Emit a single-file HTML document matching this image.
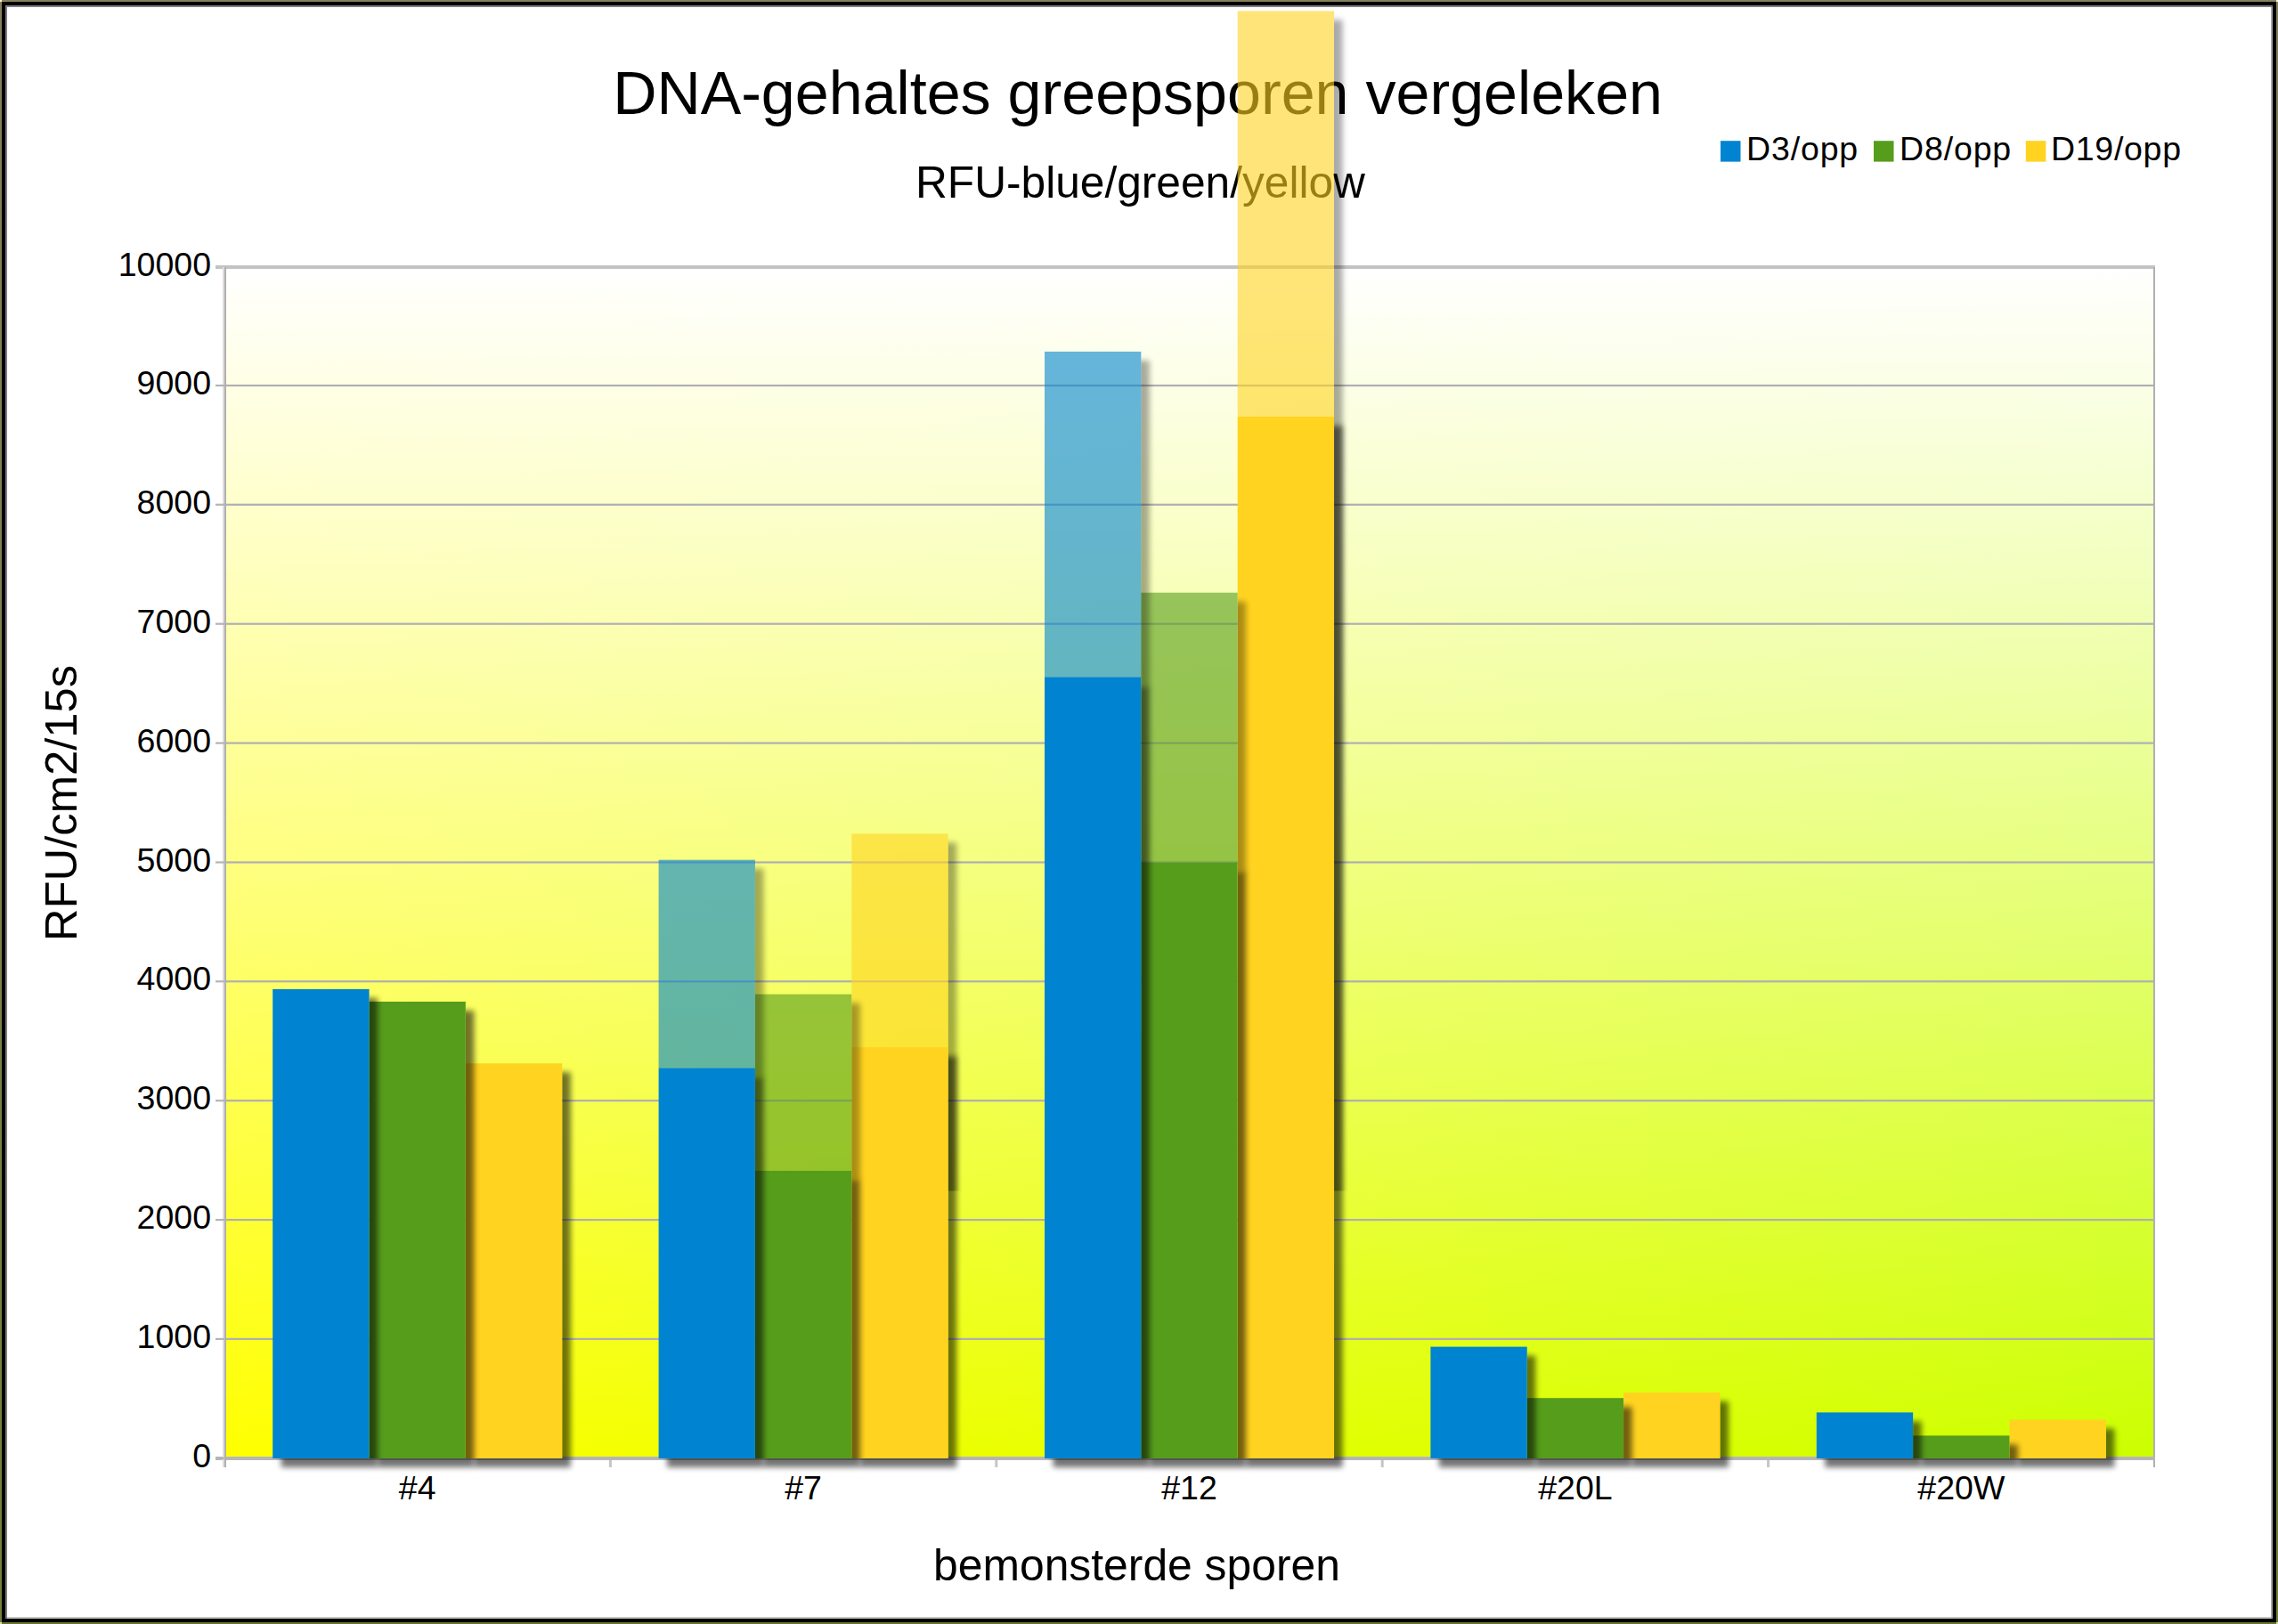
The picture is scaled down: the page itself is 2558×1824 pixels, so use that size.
<!DOCTYPE html>
<html lang="nl"><head><meta charset="utf-8"><title>DNA-gehaltes greepsporen vergeleken</title>
<style>
html,body{margin:0;padding:0;background:#fff;}
body{width:2558px;height:1824px;overflow:hidden;font-family:"Liberation Sans",Arial,sans-serif;}
svg{display:block;}
text{font-family:"Liberation Sans",Arial,sans-serif;fill:#000;}
</style></head><body>
<svg width="2558" height="1824" viewBox="0 0 2558 1824">
<defs>
<linearGradient id="gh" x1="0" y1="0" x2="1" y2="0"><stop offset="0" stop-color="#ffff00"/><stop offset="1" stop-color="#ccff00"/></linearGradient>
<linearGradient id="gv" x1="0" y1="0" x2="0" y2="1"><stop offset="0" stop-color="#fff" stop-opacity="1"/><stop offset="1" stop-color="#fff" stop-opacity="0"/></linearGradient>
<linearGradient id="ol" x1="0" y1="0" x2="0" y2="1"><stop offset="0" stop-color="#85815b"/><stop offset="1" stop-color="#74803a"/></linearGradient>
<filter id="bl" filterUnits="userSpaceOnUse" x="0" y="0" width="2558" height="1824"><feGaussianBlur stdDeviation="3"/></filter>
<clipPath id="cp"><rect x="8" y="8" width="2542" height="1808"/></clipPath>
</defs>

<rect x="0" y="0" width="2558" height="1824" fill="url(#ol)"/>
<rect x="0" y="0" width="2558" height="2" fill="#85815b"/>
<rect x="0" y="1822" width="2558" height="2" fill="#6a7530"/>
<rect x="0" y="0" width="2" height="2" fill="#f4f4e0"/>
<rect x="2556" y="0" width="2" height="2" fill="#f0f0dc"/>
<rect x="0" y="1822" width="2" height="2" fill="#d2e0a0"/>
<rect x="2556" y="1822" width="2" height="2" fill="#d0dca4"/>
<rect x="2" y="2" width="2554" height="1820" fill="#000"/>
<rect x="6" y="6" width="2546" height="1812" fill="#807e80"/>
<rect x="2550" y="8" width="2" height="1810" fill="#a8a8a8"/>
<rect x="8" y="1816" width="2542" height="2" fill="#c6c8c2"/>
<rect x="8" y="8" width="2542" height="1808" fill="#fff"/>
<rect x="252.0" y="300.0" width="2167.0" height="1338.0" fill="url(#gh)"/>
<rect x="252.0" y="300.0" width="2167.0" height="1338.0" fill="url(#gv)"/>
<rect x="254.0" y="1502.8" width="2165.0" height="2.2" fill="#afafb4"/>
<rect x="254.0" y="1369.0" width="2165.0" height="2.2" fill="#afafb4"/>
<rect x="254.0" y="1235.1" width="2165.0" height="2.2" fill="#afafb4"/>
<rect x="254.0" y="1101.2" width="2165.0" height="2.2" fill="#afafb4"/>
<rect x="254.0" y="967.4" width="2165.0" height="2.2" fill="#afafb4"/>
<rect x="254.0" y="833.5" width="2165.0" height="2.2" fill="#afafb4"/>
<rect x="254.0" y="699.6" width="2165.0" height="2.2" fill="#afafb4"/>
<rect x="254.0" y="565.7" width="2165.0" height="2.2" fill="#afafb4"/>
<rect x="254.0" y="431.9" width="2165.0" height="2.2" fill="#afafb4"/>
<rect x="242.0" y="298.0" width="2178.0" height="4" fill="#c3c3c3"/>
<rect x="2418.0" y="300.0" width="2" height="1348.0" fill="#b0b0b0"/>
<text x="688.2" y="127.7" font-size="68.2" text-anchor="start" >DNA-gehaltes greepsporen vergeleken</text>
<text x="1028" y="222" font-size="49.65" text-anchor="start" >RFU-blue/green/yellow</text>
<rect x="242.0" y="1636.0" width="2178.0" height="4" fill="#b6b6b6"/>
<g clip-path="url(#cp)">
<clipPath id="c1"><path clip-rule="evenodd" d="M0,0H2558V1824H0Z M522.9,1194.3H631.2V1638.0H522.9Z"/></clipPath>
<g clip-path="url(#c1)"><rect x="532.4" y="1204.3" width="108.35" height="443.7" fill="#000" opacity="0.55" filter="url(#bl)"/></g>
<rect x="522.9" y="1194.3" width="108.35" height="443.7" fill="#ffd320" opacity="1"/>
<clipPath id="c2"><path clip-rule="evenodd" d="M0,0H2558V1824H0Z M414.5,1125.0H522.9V1638.0H414.5Z"/></clipPath>
<g clip-path="url(#c2)"><rect x="424.0" y="1135.0" width="108.35" height="513.0" fill="#000" opacity="0.55" filter="url(#bl)"/></g>
<rect x="414.5" y="1125.0" width="108.35" height="513.0" fill="#579d1c" opacity="1"/>
<clipPath id="c3"><path clip-rule="evenodd" d="M0,0H2558V1824H0Z M306.2,1111.0H414.5V1638.0H306.2Z"/></clipPath>
<g clip-path="url(#c3)"><rect x="315.7" y="1121.0" width="108.35" height="527.0" fill="#000" opacity="0.55" filter="url(#bl)"/></g>
<rect x="306.2" y="1111.0" width="108.35" height="527.0" fill="#0084d1" opacity="1"/>
<clipPath id="c4"><rect x="1064.6" y="0" width="60" height="1824"/></clipPath>
<g clip-path="url(#c4)"><rect x="965.8" y="946.4" width="108.35" height="239.8" fill="#000" opacity="0.33" filter="url(#bl)"/></g>
<rect x="956.3" y="936.4" width="108.35" height="239.8" fill="#ffd320" opacity="0.6"/>
<clipPath id="c5"><rect x="1064.6" y="0" width="60" height="1337.5"/></clipPath>
<g clip-path="url(#c5)"><rect x="965.8" y="1186.1" width="108.35" height="173.9" fill="#000" opacity="0.33" filter="url(#bl)"/></g>
<clipPath id="c6"><path clip-rule="evenodd" d="M0,0H2558V1824H0Z M956.3,1176.1H1064.6V1638.0H956.3Z"/></clipPath>
<g clip-path="url(#c6)"><rect x="965.8" y="1186.1" width="108.35" height="461.9" fill="#000" opacity="0.55" filter="url(#bl)"/></g>
<rect x="956.3" y="1176.1" width="108.35" height="461.9" fill="#ffd320" opacity="1"/>
<clipPath id="c7"><rect x="956.3" y="0" width="60" height="1824"/></clipPath>
<g clip-path="url(#c7)"><rect x="857.4" y="1126.7" width="108.35" height="198.3" fill="#000" opacity="0.33" filter="url(#bl)"/></g>
<rect x="847.9" y="1116.7" width="108.35" height="198.3" fill="#579d1c" opacity="0.6"/>
<clipPath id="c8"><path clip-rule="evenodd" d="M0,0H2558V1824H0Z M847.9,1315.0H956.3V1638.0H847.9Z"/></clipPath>
<g clip-path="url(#c8)"><rect x="857.4" y="1325.0" width="108.35" height="323.0" fill="#000" opacity="0.55" filter="url(#bl)"/></g>
<rect x="847.9" y="1315.0" width="108.35" height="323.0" fill="#579d1c" opacity="1"/>
<clipPath id="c9"><rect x="847.9" y="0" width="60" height="1824"/></clipPath>
<g clip-path="url(#c9)"><rect x="749.1" y="975.7" width="108.35" height="233.7" fill="#000" opacity="0.33" filter="url(#bl)"/></g>
<rect x="739.6" y="965.7" width="108.35" height="233.7" fill="#0084d1" opacity="0.6"/>
<clipPath id="c10"><path clip-rule="evenodd" d="M0,0H2558V1824H0Z M739.6,1199.4H847.9V1638.0H739.6Z"/></clipPath>
<g clip-path="url(#c10)"><rect x="749.1" y="1209.4" width="108.35" height="438.6" fill="#000" opacity="0.55" filter="url(#bl)"/></g>
<rect x="739.6" y="1199.4" width="108.35" height="438.6" fill="#0084d1" opacity="1"/>
<clipPath id="c11"><rect x="1498.0" y="0" width="60" height="1824"/></clipPath>
<g clip-path="url(#c11)"><rect x="1399.2" y="22.3" width="108.35" height="455.5" fill="#000" opacity="0.33" filter="url(#bl)"/></g>
<rect x="1389.7" y="12.3" width="108.35" height="455.5" fill="#ffd320" opacity="0.6"/>
<clipPath id="c12"><rect x="1498.0" y="0" width="60" height="1337.5"/></clipPath>
<g clip-path="url(#c12)"><rect x="1399.2" y="477.8" width="108.35" height="882.2" fill="#000" opacity="0.33" filter="url(#bl)"/></g>
<clipPath id="c13"><path clip-rule="evenodd" d="M0,0H2558V1824H0Z M1389.7,467.8H1498.0V1638.0H1389.7Z"/></clipPath>
<g clip-path="url(#c13)"><rect x="1399.2" y="477.8" width="108.35" height="1170.2" fill="#000" opacity="0.55" filter="url(#bl)"/></g>
<rect x="1389.7" y="467.8" width="108.35" height="1170.2" fill="#ffd320" opacity="1"/>
<clipPath id="c14"><rect x="1389.7" y="0" width="60" height="1824"/></clipPath>
<g clip-path="url(#c14)"><rect x="1290.8" y="675.7" width="108.35" height="302.8" fill="#000" opacity="0.33" filter="url(#bl)"/></g>
<rect x="1281.3" y="665.7" width="108.35" height="302.8" fill="#579d1c" opacity="0.6"/>
<clipPath id="c15"><path clip-rule="evenodd" d="M0,0H2558V1824H0Z M1281.3,968.5H1389.7V1638.0H1281.3Z"/></clipPath>
<g clip-path="url(#c15)"><rect x="1290.8" y="978.5" width="108.35" height="669.5" fill="#000" opacity="0.55" filter="url(#bl)"/></g>
<rect x="1281.3" y="968.5" width="108.35" height="669.5" fill="#579d1c" opacity="1"/>
<clipPath id="c16"><rect x="1281.3" y="0" width="60" height="1824"/></clipPath>
<g clip-path="url(#c16)"><rect x="1182.5" y="404.9" width="108.35" height="365.4" fill="#000" opacity="0.33" filter="url(#bl)"/></g>
<rect x="1173.0" y="394.9" width="108.35" height="365.4" fill="#0084d1" opacity="0.6"/>
<clipPath id="c17"><path clip-rule="evenodd" d="M0,0H2558V1824H0Z M1173.0,760.3H1281.3V1638.0H1173.0Z"/></clipPath>
<g clip-path="url(#c17)"><rect x="1182.5" y="770.3" width="108.35" height="877.7" fill="#000" opacity="0.55" filter="url(#bl)"/></g>
<rect x="1173.0" y="760.3" width="108.35" height="877.7" fill="#0084d1" opacity="1"/>
<clipPath id="c18"><path clip-rule="evenodd" d="M0,0H2558V1824H0Z M1823.1,1564.0H1931.4V1638.0H1823.1Z"/></clipPath>
<g clip-path="url(#c18)"><rect x="1832.6" y="1574.0" width="108.35" height="74.0" fill="#000" opacity="0.55" filter="url(#bl)"/></g>
<rect x="1823.1" y="1564.0" width="108.35" height="74.0" fill="#ffd320" opacity="1"/>
<clipPath id="c19"><path clip-rule="evenodd" d="M0,0H2558V1824H0Z M1714.7,1570.2H1823.1V1638.0H1714.7Z"/></clipPath>
<g clip-path="url(#c19)"><rect x="1724.2" y="1580.2" width="108.35" height="67.8" fill="#000" opacity="0.55" filter="url(#bl)"/></g>
<rect x="1714.7" y="1570.2" width="108.35" height="67.8" fill="#579d1c" opacity="1"/>
<clipPath id="c20"><path clip-rule="evenodd" d="M0,0H2558V1824H0Z M1606.4,1512.6H1714.7V1638.0H1606.4Z"/></clipPath>
<g clip-path="url(#c20)"><rect x="1615.9" y="1522.6" width="108.35" height="125.4" fill="#000" opacity="0.55" filter="url(#bl)"/></g>
<rect x="1606.4" y="1512.6" width="108.35" height="125.4" fill="#0084d1" opacity="1"/>
<clipPath id="c21"><path clip-rule="evenodd" d="M0,0H2558V1824H0Z M2256.5,1594.5H2364.8V1638.0H2256.5Z"/></clipPath>
<g clip-path="url(#c21)"><rect x="2266.0" y="1604.5" width="108.35" height="43.5" fill="#000" opacity="0.55" filter="url(#bl)"/></g>
<rect x="2256.5" y="1594.5" width="108.35" height="43.5" fill="#ffd320" opacity="1"/>
<clipPath id="c22"><path clip-rule="evenodd" d="M0,0H2558V1824H0Z M2148.1,1612.4H2256.5V1638.0H2148.1Z"/></clipPath>
<g clip-path="url(#c22)"><rect x="2157.6" y="1622.4" width="108.35" height="25.6" fill="#000" opacity="0.55" filter="url(#bl)"/></g>
<rect x="2148.1" y="1612.4" width="108.35" height="25.6" fill="#579d1c" opacity="1"/>
<clipPath id="c23"><path clip-rule="evenodd" d="M0,0H2558V1824H0Z M2039.8,1586.4H2148.1V1638.0H2039.8Z"/></clipPath>
<g clip-path="url(#c23)"><rect x="2049.3" y="1596.4" width="108.35" height="51.6" fill="#000" opacity="0.55" filter="url(#bl)"/></g>
<rect x="2039.8" y="1586.4" width="108.35" height="51.6" fill="#0084d1" opacity="1"/>
</g>
<rect x="250.0" y="300.0" width="2" height="1348.0" fill="#e0dcdc"/>
<rect x="252.0" y="300.0" width="2" height="1348.0" fill="#b0b0b0"/>
<rect x="242.0" y="1636.7" width="11" height="2.2" fill="#b4b4b4"/>
<rect x="242.0" y="1502.8" width="11" height="2.2" fill="#b4b4b4"/>
<rect x="242.0" y="1369.0" width="11" height="2.2" fill="#b4b4b4"/>
<rect x="242.0" y="1235.1" width="11" height="2.2" fill="#b4b4b4"/>
<rect x="242.0" y="1101.2" width="11" height="2.2" fill="#b4b4b4"/>
<rect x="242.0" y="967.4" width="11" height="2.2" fill="#b4b4b4"/>
<rect x="242.0" y="833.5" width="11" height="2.2" fill="#b4b4b4"/>
<rect x="242.0" y="699.6" width="11" height="2.2" fill="#b4b4b4"/>
<rect x="242.0" y="565.7" width="11" height="2.2" fill="#b4b4b4"/>
<rect x="242.0" y="431.9" width="11" height="2.2" fill="#b4b4b4"/>
<rect x="683.9" y="1640.0" width="3" height="8" fill="#c6c6c6"/>
<rect x="1117.3" y="1640.0" width="3" height="8" fill="#c6c6c6"/>
<rect x="1550.7" y="1640.0" width="3" height="8" fill="#c6c6c6"/>
<rect x="1984.1" y="1640.0" width="3" height="8" fill="#c6c6c6"/>
<text x="1276.5" y="1775.2" font-size="49.8" text-anchor="middle" >bemonsterde sporen</text>
<text transform="translate(86,902) rotate(-90)" font-size="50.8" text-anchor="middle">RFU/cm2/15s</text>
<text x="237" y="1647.5" font-size="37.5" text-anchor="end" >0</text>
<text x="237" y="1513.7" font-size="37.5" text-anchor="end" >1000</text>
<text x="237" y="1379.9" font-size="37.5" text-anchor="end" >2000</text>
<text x="237" y="1246.1" font-size="37.5" text-anchor="end" >3000</text>
<text x="237" y="1112.3" font-size="37.5" text-anchor="end" >4000</text>
<text x="237" y="978.5" font-size="37.5" text-anchor="end" >5000</text>
<text x="237" y="844.6999999999999" font-size="37.5" text-anchor="end" >6000</text>
<text x="237" y="710.9" font-size="37.5" text-anchor="end" >7000</text>
<text x="237" y="577.0999999999999" font-size="37.5" text-anchor="end" >8000</text>
<text x="237" y="443.29999999999995" font-size="37.5" text-anchor="end" >9000</text>
<text x="237" y="309.5" font-size="37.5" text-anchor="end" >10000</text>
<text x="468.7" y="1684" font-size="37.5" text-anchor="middle" >#4</text>
<text x="902.1" y="1684" font-size="37.5" text-anchor="middle" >#7</text>
<text x="1335.5" y="1684" font-size="37.5" text-anchor="middle" >#12</text>
<text x="1768.9" y="1684" font-size="37.5" text-anchor="middle" >#20L</text>
<text x="2202.3" y="1684" font-size="37.5" text-anchor="middle" >#20W</text>
<rect x="1932" y="158.2" width="22.5" height="23.4" fill="#0084d1"/>
<text x="1961" y="179.6" font-size="37.5" text-anchor="start" textLength="125.2" lengthAdjust="spacing">D3/opp</text>
<rect x="2104" y="158.2" width="22.5" height="23.4" fill="#579d1c"/>
<text x="2133" y="179.6" font-size="37.5" text-anchor="start" textLength="125.2" lengthAdjust="spacing">D8/opp</text>
<rect x="2274.8" y="158.2" width="22.5" height="23.4" fill="#ffd320"/>
<text x="2303" y="179.6" font-size="37.5" text-anchor="start" textLength="146" lengthAdjust="spacing">D19/opp</text>
</svg></body></html>
